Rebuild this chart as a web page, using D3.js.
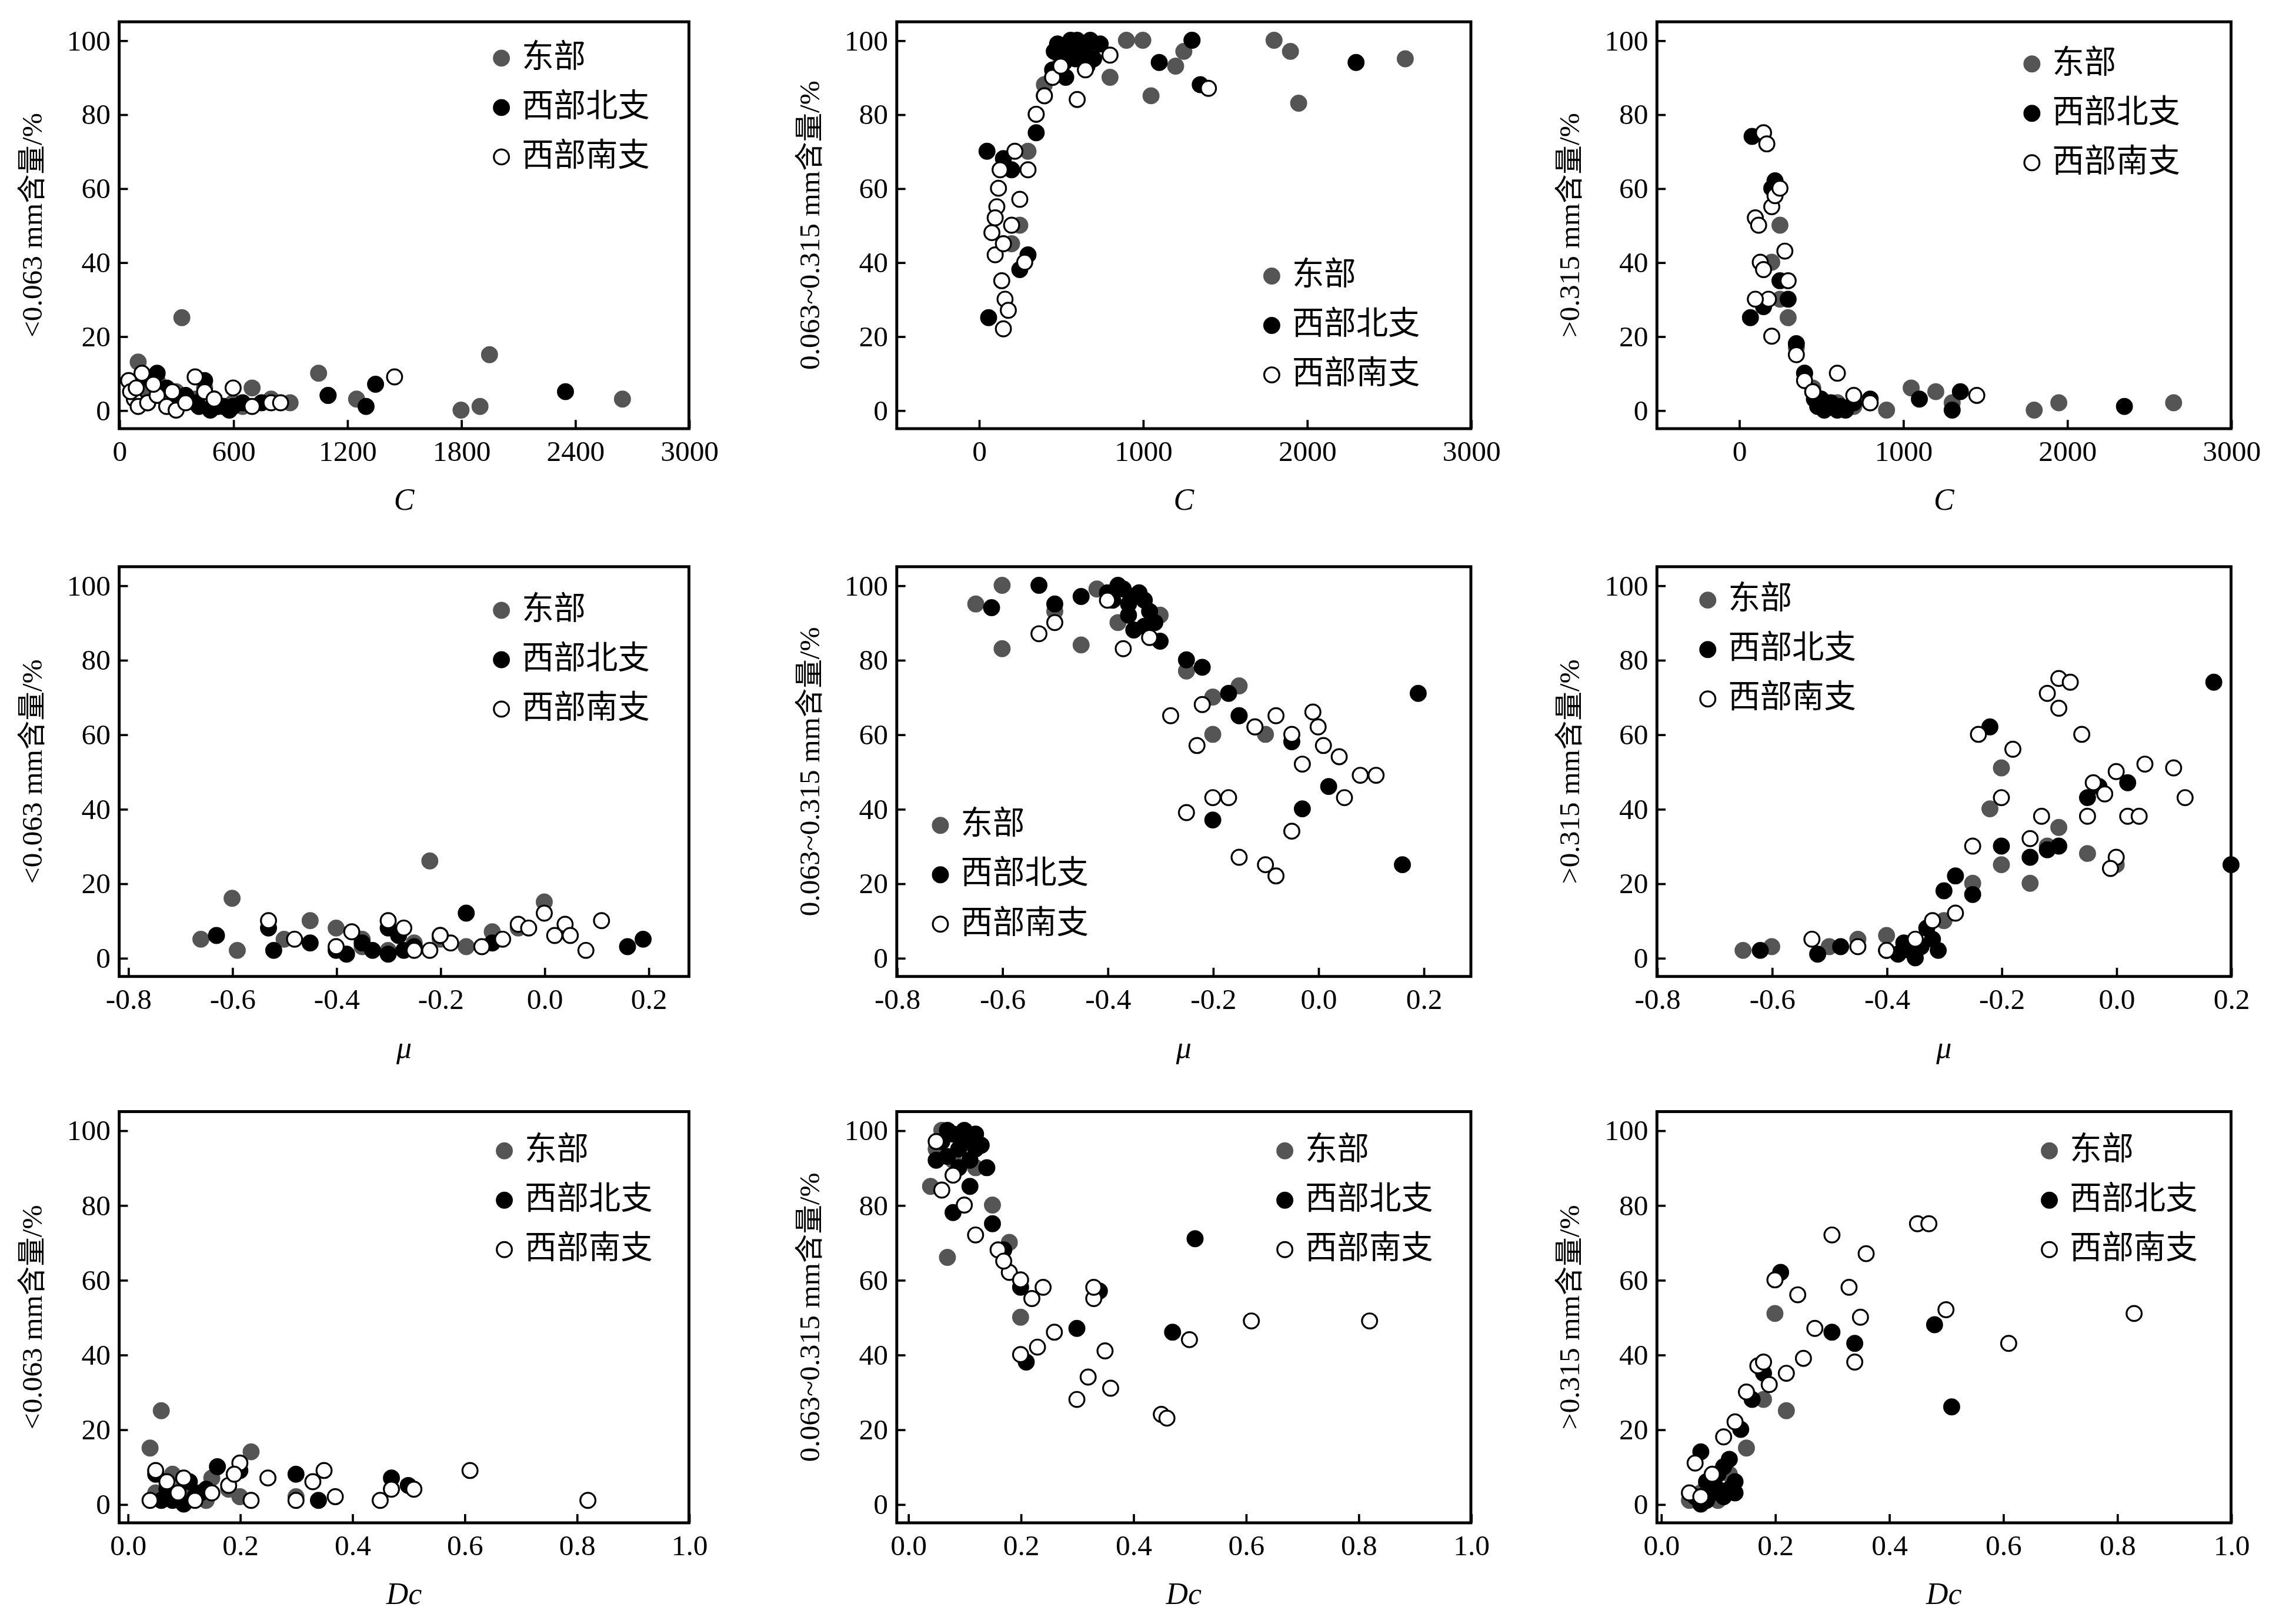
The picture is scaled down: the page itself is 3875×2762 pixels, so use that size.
<!DOCTYPE html>
<html><head><meta charset="utf-8">
<script src="https://cdn.jsdelivr.net/npm/d3@7"></script>
<style>body{margin:0;background:#fff}</style></head>
<body><svg id="c"></svg>
<script>
const seriesNames=["东部","西部北支","西部南支"];
const yLabels=["<0.063 mm含量/%","0.063~0.315 mm含量/%",">0.315 mm含量/%"];
const xLabels=["C","μ","Dc"];
const yTicks=[0,20,40,60,80,100];
const xTicksC1=[0,600,1200,1800,2400,3000];
const xTicksC=[0,1000,2000,3000];
const xTicksMu=[-0.8,-0.6,-0.4,-0.2,0.0,0.2];
const xTicksDc=[0,0.2,0.4,0.6,0.8,1.0];

const r1c1E=[[100,13],[330,25],[200,8],[300,5],[400,3],[500,2],[600,2],[700,6],[800,3],[900,2],[1050,10],[1100,4],[1250,3],[1800,0],[1900,1],[1950,15],[2650,3],[150,5],[250,3],[450,6],[550,1],[650,1]];
const r1c1N=[[100,8],[200,10],[300,3],[400,2],[450,8],[500,3],[550,1],[600,1],[650,2],[750,2],[1100,4],[1300,1],[1350,7],[2350,5],[150,2],[250,6],[350,4],[480,0],[520,1],[580,0],[420,1]];
const r1c1S=[[50,8],[80,3],[100,1],[120,10],[150,2],[200,4],[250,1],[300,0],[350,2],[400,9],[450,5],[500,3],[600,6],[700,1],[800,2],[850,2],[1450,9],[180,7],[280,5],[60,5],[90,6]];
const r1c2E=[[200,45],[250,50],[300,70],[350,80],[400,88],[450,90],[500,95],[550,97],[600,98],[700,99],[800,90],[900,100],[1000,100],[1050,85],[1200,93],[1250,97],[1300,100],[1800,100],[1900,97],[1950,83],[2600,95]];
const r1c2N=[[50,70],[60,25],[150,68],[250,38],[300,42],[350,75],[400,85],[450,92],[500,96],[550,98],[600,100],[650,97],[700,95],[1100,94],[1300,100],[1350,88],[2300,94],[200,65],[480,99],[520,94],[560,100],[620,98],[680,100],[740,99],[460,97],[530,90],[590,95],[660,93]];
const r1c2S=[[80,48],[100,42],[110,55],[120,60],[130,65],[140,35],[150,22],[160,30],[180,27],[200,50],[220,70],[250,57],[280,40],[300,65],[350,80],[400,85],[450,90],[500,93],[600,84],[650,92],[800,96],[1400,87],[150,45],[100,52]];
const r1c3E=[[200,40],[250,50],[300,25],[350,17],[400,10],[450,6],[500,3],[600,2],[700,1],[800,2],[900,0],[1050,6],[1200,5],[1300,2],[1800,0],[1950,2],[2650,2],[250,30]];
const r1c3N=[[80,74],[70,25],[200,60],[220,62],[250,35],[300,30],[350,18],[400,10],[450,5],[500,3],[550,1],[600,0],[700,2],[800,3],[1100,3],[1300,0],[1350,5],[2350,1],[150,28],[480,1],[520,0],[560,2],[620,1],[650,0],[460,3]];
const r1c3S=[[100,52],[120,50],[130,40],[150,75],[170,72],[200,55],[220,58],[250,60],[280,43],[300,35],[150,38],[180,30],[200,20],[350,15],[400,8],[450,5],[600,10],[700,4],[800,2],[1450,4],[100,30]];
const r2c1E=[[-0.66,5],[-0.6,16],[-0.59,2],[-0.5,5],[-0.45,10],[-0.4,8],[-0.35,3],[-0.3,2],[-0.25,4],[-0.22,26],[-0.2,5],[-0.15,3],[-0.1,7],[-0.05,8],[0.0,15],[-0.35,5]];
const r2c1N=[[-0.63,6],[-0.53,8],[-0.52,2],[-0.45,4],[-0.4,2],[-0.35,4],[-0.3,8],[-0.25,3],[-0.2,6],[-0.15,12],[-0.1,4],[0.16,3],[0.19,5],[-0.28,6],[-0.38,1],[-0.33,2],[-0.3,1],[-0.27,2]];
const r2c1S=[[-0.53,10],[-0.48,5],[-0.4,3],[-0.37,7],[-0.3,10],[-0.27,8],[-0.25,2],[-0.22,2],[-0.18,4],[-0.12,3],[-0.08,5],[-0.05,9],[-0.03,8],[0.0,12],[0.02,6],[0.04,9],[0.05,6],[0.08,2],[0.11,10],[-0.2,6]];
const r2c2E=[[-0.65,95],[-0.6,100],[-0.6,83],[-0.5,93],[-0.45,84],[-0.42,99],[-0.38,90],[-0.3,92],[-0.25,77],[-0.2,70],[-0.15,73],[-0.15,65],[-0.12,62],[-0.1,60],[-0.2,60]];
const r2c2N=[[-0.62,94],[-0.53,100],[-0.5,95],[-0.45,97],[-0.4,98],[-0.38,100],[-0.35,97],[-0.32,93],[-0.3,85],[-0.25,80],[-0.22,78],[-0.2,37],[-0.17,71],[-0.15,65],[-0.05,58],[0.02,46],[-0.03,40],[0.16,25],[0.19,71],[-0.35,88],[-0.39,96],[-0.37,99],[-0.36,95],[-0.34,98],[-0.33,96],[-0.31,90],[-0.36,92],[-0.33,89]];
const r2c2S=[[-0.53,87],[-0.5,90],[-0.4,96],[-0.37,83],[-0.32,86],[-0.28,65],[-0.25,39],[-0.23,57],[-0.22,68],[-0.2,43],[-0.17,43],[-0.15,27],[-0.12,62],[-0.1,25],[-0.08,22],[-0.05,34],[-0.03,52],[-0.01,66],[0.0,62],[0.01,57],[0.04,54],[0.05,43],[0.08,49],[0.11,49],[-0.05,60],[-0.08,65]];
const r2c3E=[[-0.65,2],[-0.6,3],[-0.5,3],[-0.45,5],[-0.4,6],[-0.35,3],[-0.3,10],[-0.25,20],[-0.2,25],[-0.15,20],[-0.12,30],[-0.1,35],[-0.05,28],[0.0,25],[-0.2,51],[-0.22,40]];
const r2c3N=[[-0.62,2],[-0.52,1],[-0.48,3],[-0.4,2],[-0.37,4],[-0.33,8],[-0.3,18],[-0.28,22],[-0.25,17],[-0.22,62],[-0.2,30],[-0.15,27],[-0.1,30],[-0.05,43],[-0.03,46],[0.02,47],[0.17,74],[0.2,25],[-0.12,29],[-0.38,1],[-0.36,2],[-0.34,3],[-0.35,0],[-0.32,5],[-0.31,2]];
const r2c3S=[[-0.53,5],[-0.45,3],[-0.4,2],[-0.35,5],[-0.32,10],[-0.28,12],[-0.25,30],[-0.24,60],[-0.2,43],[-0.18,56],[-0.15,32],[-0.13,38],[-0.12,71],[-0.1,75],[-0.08,74],[-0.06,60],[-0.05,38],[-0.04,47],[-0.02,44],[0.0,50],[0.0,27],[-0.01,24],[0.02,38],[0.04,38],[0.05,52],[0.1,51],[0.12,43],[-0.1,67]];
const r3c1E=[[0.04,15],[0.06,25],[0.08,8],[0.1,5],[0.12,3],[0.15,7],[0.18,4],[0.22,14],[0.2,2],[0.3,2],[0.14,1],[0.05,3]];
const r3c1N=[[0.05,8],[0.07,4],[0.09,2],[0.11,6],[0.13,3],[0.16,10],[0.2,9],[0.3,8],[0.34,1],[0.47,7],[0.5,5],[0.08,1],[0.06,1],[0.1,0],[0.12,2],[0.14,4]];
const r3c1S=[[0.04,1],[0.05,9],[0.07,6],[0.09,3],[0.1,7],[0.12,1],[0.15,3],[0.18,5],[0.2,11],[0.22,1],[0.25,7],[0.3,1],[0.33,6],[0.35,9],[0.37,2],[0.45,1],[0.47,4],[0.51,4],[0.61,9],[0.82,1],[0.19,8]];
const r3c2E=[[0.04,85],[0.05,95],[0.06,100],[0.07,66],[0.08,92],[0.1,97],[0.12,90],[0.15,80],[0.2,50],[0.18,70]];
const r3c2N=[[0.05,92],[0.07,100],[0.08,78],[0.1,98],[0.11,85],[0.12,95],[0.14,90],[0.15,75],[0.17,68],[0.2,58],[0.21,38],[0.3,47],[0.34,57],[0.47,46],[0.51,71],[0.06,97],[0.08,99],[0.09,95],[0.1,100],[0.11,97],[0.12,99],[0.13,96],[0.07,93],[0.09,90],[0.11,92]];
const r3c2S=[[0.05,97],[0.06,84],[0.08,88],[0.1,80],[0.12,72],[0.16,68],[0.18,62],[0.2,60],[0.22,55],[0.2,40],[0.23,42],[0.26,46],[0.3,28],[0.32,34],[0.33,55],[0.33,58],[0.35,41],[0.36,31],[0.45,24],[0.46,23],[0.5,44],[0.61,49],[0.82,49],[0.24,58],[0.17,65]];
const r3c3E=[[0.05,1],[0.07,3],[0.08,5],[0.1,2],[0.12,8],[0.15,15],[0.18,28],[0.2,51],[0.22,25],[0.1,1]];
const r3c3N=[[0.06,2],[0.07,14],[0.08,6],[0.1,4],[0.11,10],[0.12,12],[0.14,20],[0.16,28],[0.18,35],[0.21,62],[0.3,46],[0.34,43],[0.48,48],[0.51,26],[0.13,3],[0.08,1],[0.09,3],[0.11,2],[0.12,4],[0.13,6],[0.1,8],[0.07,0]];
const r3c3S=[[0.05,3],[0.06,11],[0.07,2],[0.09,8],[0.11,18],[0.13,22],[0.15,30],[0.17,37],[0.19,32],[0.2,60],[0.22,35],[0.24,56],[0.25,39],[0.27,47],[0.3,72],[0.33,58],[0.34,38],[0.35,50],[0.36,67],[0.45,75],[0.47,75],[0.5,52],[0.61,43],[0.83,51],[0.18,38]];

const W=3875,H=2762,k=W/1568;
const svg=d3.select("#c").attr("width",W).attr("height",H).attr("viewBox",`0 0 1568 ${H/k}`);
const colsX=[[82,474],[617,1012],[1140,1535]];
const rowsY=[[15,295],[390,672],[765,1048]];
const panels=[
 {r:0,c:0,dom:[0,3000],ticks:xTicksC1,fmt:d3.format("d"),d:[r1c1E,r1c1N,r1c1S],leg:[345,40]},
 {r:0,c:1,dom:[-500,3000],ticks:xTicksC,fmt:d3.format("d"),d:[r1c2E,r1c2N,r1c2S],leg:[875,190]},
 {r:0,c:2,dom:[-500,3000],ticks:xTicksC,fmt:d3.format("d"),d:[r1c3E,r1c3N,r1c3S],leg:[1398,44]},
 {r:1,c:0,dom:[-0.817,0.278],ticks:xTicksMu,fmt:d3.format(".1f"),d:[r2c1E,r2c1N,r2c1S],leg:[345,420]},
 {r:1,c:1,dom:[-0.8,0.29],ticks:xTicksMu,fmt:d3.format(".1f"),d:[r2c2E,r2c2N,r2c2S],leg:[647,568]},
 {r:1,c:2,dom:[-0.8,0.2],ticks:xTicksMu,fmt:d3.format(".1f"),d:[r2c3E,r2c3N,r2c3S],leg:[1175,413]},
 {r:2,c:0,dom:[-0.015,1.0],ticks:xTicksDc,fmt:d3.format(".1f"),d:[r3c1E,r3c1N,r3c1S],leg:[347,792]},
 {r:2,c:1,dom:[-0.02,1.0],ticks:xTicksDc,fmt:d3.format(".1f"),d:[r3c2E,r3c2N,r3c2S],leg:[884,792]},
 {r:2,c:2,dom:[-0.007,1.0],ticks:xTicksDc,fmt:d3.format(".1f"),d:[r3c3E,r3c3N,r3c3S],leg:[1410,792]}
];
const fills=["#555","#000","#fff"];
const strokes=["#555","#000","#000"];
const num="'Liberation Serif','Times New Roman',serif";
const cjk="'Noto Sans CJK SC',sans-serif";
panels.forEach(p=>{
 const [x0,x1]=colsX[p.c],[y0,y1]=rowsY[p.r];
 const x=d3.scaleLinear().domain(p.dom).range([x0,x1]);
 const y=d3.scaleLinear().domain([-5,105]).range([y1,y0]);
 const g=svg.append("g");
 const xa=g.append("g").attr("transform",`translate(0,${y1})`).call(d3.axisBottom(x).tickValues(p.ticks).tickFormat(p.fmt).tickSizeInner(-6).tickSizeOuter(0).tickPadding(8));
 const ya=g.append("g").attr("transform",`translate(${x0},0)`).call(d3.axisLeft(y).tickValues(yTicks).tickSizeInner(-6).tickSizeOuter(0).tickPadding(6));
 [xa,ya].forEach(a=>{a.select(".domain").remove();a.selectAll("line").attr("stroke","#000").attr("stroke-width",1.5);a.selectAll("text").attr("font-family",num).attr("font-size",20).attr("fill","#000");});
 xa.selectAll("text").text(d=>d<0?"-"+p.fmt(-d):p.fmt(d));
 g.append("rect").attr("x",x0).attr("y",y0).attr("width",x1-x0).attr("height",y1-y0).attr("fill","none").attr("stroke","#000").attr("stroke-width",2);
 g.append("text").attr("transform",`translate(${x0-58},${(y0+y1)/2}) rotate(-90)`).attr("text-anchor","middle").attr("dominant-baseline","middle")
  .attr("font-family",num+","+cjk).attr("font-size",20).text(yLabels[p.c]);
 g.append("text").attr("x",(x0+x1)/2).attr("y",y1+56).attr("text-anchor","middle").attr("font-family",num).attr("font-style","italic").attr("font-size",21).text(xLabels[p.r]);
 [0,1,2].forEach(s=>{
  g.append("g").selectAll("circle").data(p.d[s]).join("circle")
   .attr("cx",d=>x(d[0])).attr("cy",d=>y(d[1])).attr("r",5.2)
   .attr("fill",fills[s]).attr("stroke",strokes[s]).attr("stroke-width",1.3);
 });
 seriesNames.forEach((n,i)=>{
  const ly=p.leg[1]+i*34;
  g.append("circle").attr("cx",p.leg[0]).attr("cy",ly).attr("r",5.2).attr("fill",fills[i]).attr("stroke",strokes[i]).attr("stroke-width",1.3);
  g.append("text").attr("x",p.leg[0]+14).attr("y",ly).attr("dominant-baseline","middle").attr("font-family",cjk).attr("font-size",22).text(n);
 });
});
</script></body></html>
